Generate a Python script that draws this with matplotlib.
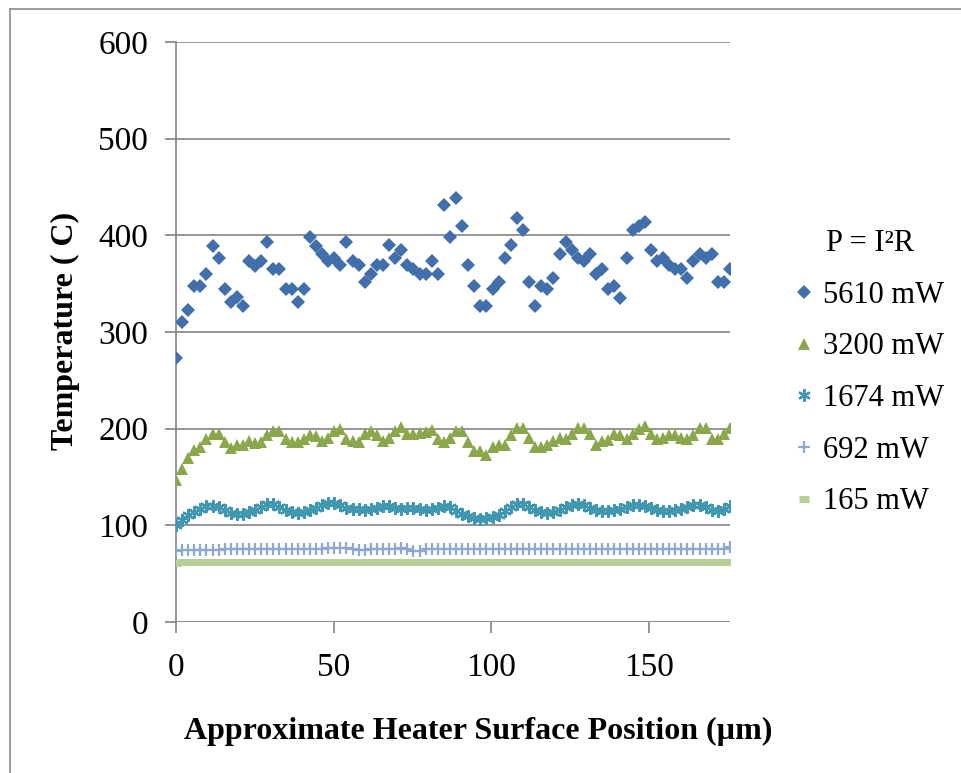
import numpy as np
import matplotlib
matplotlib.use("Agg")
import matplotlib.pyplot as plt
from matplotlib.lines import Line2D

plt.rcParams['font.family'] = ['Liberation Serif', 'DejaVu Serif']

# ---- data ----
x_step = 1.93  # µm between samples
t5610 = [273, 310, 323, 348, 348, 360, 389, 377, 344, 331, 336, 327, 373, 368, 373, 393,
         365, 365, 344, 344, 331, 344, 398, 389, 381, 373, 377, 369, 393, 373, 369, 352,
         360, 369, 369, 390, 377, 385, 369, 365, 360, 360, 373, 360, 431, 398, 439, 410,
         369, 348, 327, 327, 344, 352, 377, 390, 418, 406, 352, 327, 348, 344, 356, 381,
         393, 385, 377, 373, 381, 360, 365, 344, 348, 335, 377, 406, 410, 414, 385, 373,
         377, 369, 365, 365, 356, 373, 381, 377, 381, 352, 352, 365]
t3200 = [147, 158, 170, 178, 181, 189, 195, 195, 186, 180, 183, 183, 187, 185, 186, 193,
         198, 198, 189, 186, 186, 189, 193, 192, 187, 190, 198, 200, 189, 187, 186, 195,
         198, 193, 187, 190, 198, 202, 194, 194, 196, 197, 199, 189, 186, 190, 198, 198,
         186, 177, 177, 173, 181, 183, 183, 193, 201, 201, 190, 181, 181, 183, 187, 190,
         189, 195, 201, 201, 194, 183, 187, 188, 194, 193, 189, 194, 200, 203, 195, 189,
         190, 193, 193, 190, 189, 193, 201, 201, 189, 189, 194, 201]
t1674 = [100, 106, 111, 114, 117, 120, 120, 119, 116, 113, 112, 112, 114, 116, 119, 122,
         122, 119, 116, 114, 113, 114, 116, 118, 121, 123, 123, 121, 118, 117, 117, 116,
         117, 118, 120, 120, 118, 117, 118, 118, 117, 116, 117, 118, 120, 119, 115, 112,
         110, 108, 107, 108, 109, 111, 115, 119, 122, 122, 119, 116, 114, 113, 114, 116,
         119, 121, 122, 121, 118, 116, 115, 115, 116, 117, 119, 121, 121, 120, 118, 116,
         115, 115, 116, 117, 119, 121, 121, 119, 116, 115, 117, 120]
t692 = [73, 75, 75, 75, 75, 75, 75, 75, 75.5, 75.5, 76, 76, 76, 76, 75.5, 75.5,
        75.5, 75.5, 75.5, 75.5, 75.5, 75.5, 75.5, 76, 76, 76.5, 76.5, 76.5, 76.5, 76, 75,
        75, 75.5, 76, 76, 76, 76, 76.5, 76, 73.5, 73.5, 75.5, 76, 76, 75.5, 75.5, 75.5,
        75.5, 75.5, 75.5, 75.5, 75.5, 76, 76, 76, 76, 76, 76, 75.5, 75.5, 75.5, 75.5,
        75.5, 75.5, 76, 76, 76, 76, 76, 76, 75.5, 75.5, 75.5, 75.5, 75.5, 76, 76, 76,
        76, 75.5, 75.5, 75.5, 75.5, 75.5, 75.5, 75.5, 75.5, 75.5, 75.5, 75.5, 76, 78]
t165 = [61.5, 62.5, 62.5, 62.5, 62.5, 62.5, 62.5, 62.5, 62.5, 62.5, 62.5, 62.5, 62.5, 62.5, 62.5, 62.5,
        62.5, 62.5, 62.5, 62.5, 62.5, 62.5, 62.5, 62.5, 62.5, 62.5, 62.5, 62.5, 62.5, 62.5, 62.5, 62.5,
        62.5, 62.5, 62.5, 62.5, 62.5, 62.2, 62, 62, 62.2, 62.5, 62.5, 62.5, 62.5, 62.5, 62.5, 62.5,
        62.5, 62.5, 62.5, 62.5, 62.5, 62.5, 62.5, 62.5, 62.5, 62.5, 62.5, 62.5, 62.5, 62.5, 62.5, 62.5,
        62.5, 62.5, 62.5, 62.5, 62.5, 62.5, 62.5, 62.5, 62.5, 62.5, 62.5, 62.5, 62.5, 62.5, 62.5, 62.5,
        62.5, 62.5, 62.5, 62.5, 62.5, 62.5, 62.5, 62.5, 62.5, 62.5, 62.5, 62.5]
labels = ["5610 mW", "3200 mW", "1674 mW", "692 mW", "165 mW"]
x_ticks = [0, 50, 100, 150]
y_ticks = [0, 100, 200, 300, 400, 500, 600]

x = np.arange(len(t5610)) * x_step

fig = plt.figure(figsize=(9.61, 7.73), dpi=100)
ax = fig.add_axes([176/961, 1-622/773, (730-176)/961, (622-42)/773])

grid_c = '#8c8c8c'
ax.plot(x[:len(t165)], t165, linestyle='none', marker='_', markersize=7, markeredgewidth=5,
        color='#b7d096', label=labels[4], zorder=3)
ax.plot(x, t692, linestyle='none', marker='+', markersize=8, markeredgewidth=1.6,
        color='#8ea7d3', label=labels[3], zorder=4)
ax.plot(x, t1674, linestyle='none', marker=(6, 2, 0), markersize=9, markeredgewidth=1.6,
        color='#3f98b0', label=labels[2], zorder=5)
ax.plot(x, t3200, linestyle='none', marker='^', markersize=9, markeredgewidth=0,
        color='#8aa84b', label=labels[1], zorder=6)
ax.plot(x, t5610, linestyle='none', marker='D', markersize=6.8, markeredgewidth=0,
        color='#416fab', label=labels[0], zorder=7)

ax.set_xlim(0, x[-1])
ax.set_ylim(0, 600)
ax.set_xticks(x_ticks)
ax.set_yticks(y_ticks)
ax.yaxis.grid(True, color=grid_c, linewidth=1.3)
ax.set_axisbelow(True)
for s in ['top', 'right', 'bottom']:
    ax.spines[s].set_visible(False)
ax.spines['left'].set_color(grid_c)
ax.spines['left'].set_linewidth(1.3)
ax.tick_params(axis='y', length=8, width=1.3, color=grid_c, pad=12, labelsize=24)
ax.tick_params(axis='x', length=8, width=1.3, color=grid_c, pad=14, labelsize=24)
ax.axhline(0, color=grid_c, linewidth=1.3, zorder=1)

ax.set_xlabel("Approximate Heater Surface Position (µm)", fontsize=23, fontweight='bold')
ax.xaxis.set_label_coords((478 - 176) / 554, -(731 - 622) / 580, transform=ax.transAxes)
ax.xaxis.label.set_va('center')
ax.set_ylabel("Temperature ( C)", fontsize=23, fontweight='bold')
ax.yaxis.set_label_coords(-(176 - 65) / 554, (622 - 331) / 580, transform=ax.transAxes)
ax.yaxis.label.set_va('center')

h, l = ax.get_legend_handles_labels()
order = [4, 3, 2, 1, 0]
leg = fig.legend([h[i] for i in order], [l[i] for i in order], title="P = I²R",
                 loc='upper left', bbox_to_anchor=(780/961, 1-214/773), frameon=False,
                 fontsize=22, title_fontsize=22, handlelength=0.6, handletextpad=0.3,
                 labelspacing=0.74, borderpad=0)
leg._legend_box.align = "center"

# figure border (left and top)
fig.add_artist(Line2D([10/961, 10/961], [0, 1-9/773], color='#8c8c8c', linewidth=1.2))
fig.add_artist(Line2D([10/961, 1], [1-9/773, 1-9/773], color='#8c8c8c', linewidth=1.2))

fig.savefig("out.png", dpi=100)
